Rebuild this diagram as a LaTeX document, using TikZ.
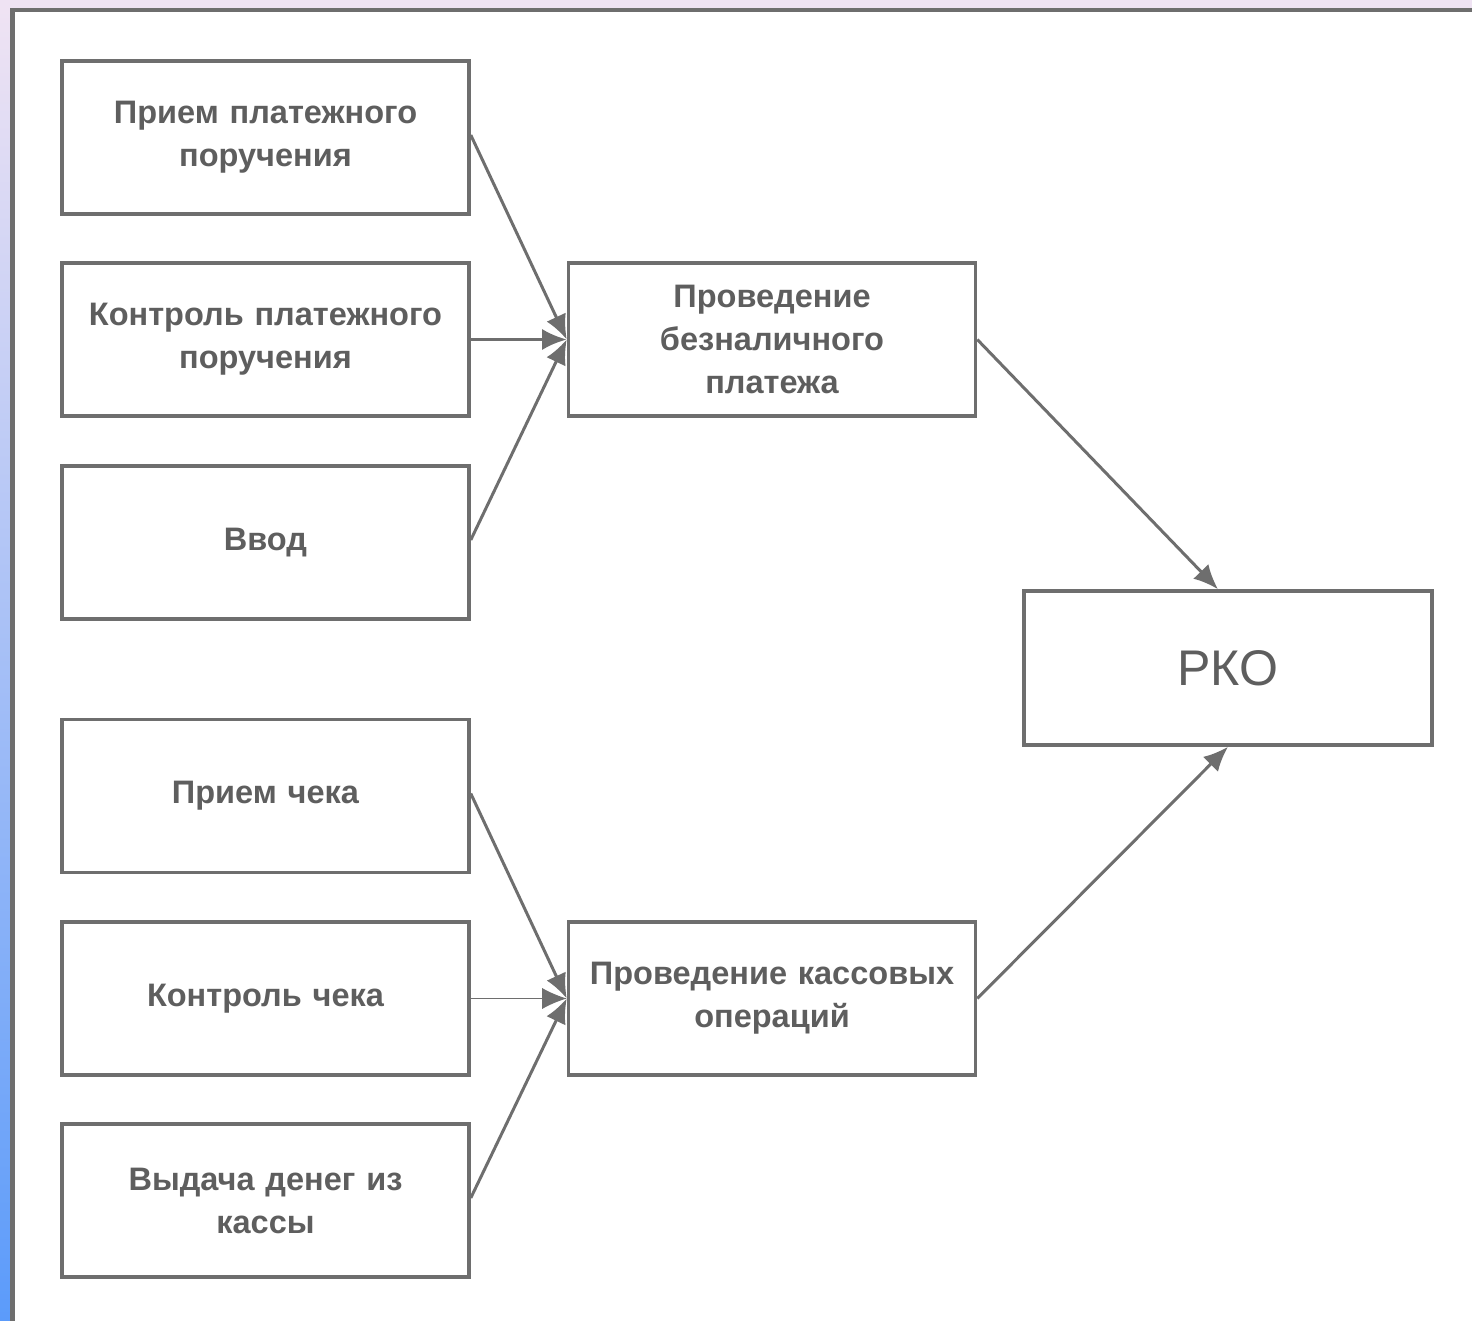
\documentclass[tikz,border=0pt]{standalone}
\usepackage{fontspec}
\setmainfont{Liberation Sans}
\usetikzlibrary{arrows.meta}
\definecolor{lineg}{HTML}{6E6E6E}
\definecolor{textg}{HTML}{5E5E5E}
\definecolor{lav}{HTML}{EFE3F3}
\definecolor{blu}{HTML}{5B9BFA}
\tikzset{
  box/.style={draw=lineg, line width=2pt, fill=white, minimum width=8.14cm, minimum height=3.06cm,
    text width=7.9cm, align=center, inner sep=0pt, text=textg,
    font=\fontsize{18.5}{24.5}\selectfont\bfseries},
  conn/.style={draw=lineg, line width=1.7pt, -{Latex[length=14pt,width=12pt]}},
}
\begin{document}
\begin{tikzpicture}
\useasboundingbox (0,0) rectangle (29.44,-26.42);
\fill[white] (0,0) rectangle (29.44,-26.42);
\fill[lav] (0,0) rectangle (29.44,-0.18);
\shade[top color=lav, bottom color=blu] (0,-0.18) rectangle (0.2,-26.42);
\draw[lineg, line width=2.6pt] (29.6,-0.2) -- (0.25,-0.2) -- (0.25,-26.6);

\node[box] (a1) at (5.31,-2.75) {Прием платежного\\поручения};
\node[box] (a2) at (5.31,-6.79) {Контроль платежного\\поручения};
\node[box] (a3) at (5.31,-10.85) {Ввод};
\node[box] (b1) at (5.31,-15.92) {Прием чека};
\node[box] (b2) at (5.31,-19.97) {Контроль чека};
\node[box] (b3) at (5.31,-24.01) {Выдача денег из\\кассы};
\node[box] (m1) at (15.44,-6.79) {Проведение\\безналичного\\платежа};
\node[box] (m2) at (15.44,-19.97) {Проведение кассовых\\операций};
\node[box, minimum width=8.16cm, minimum height=3.08cm, font=\fontsize{28.5}{34}\selectfont] (rko) at (24.56,-13.36) {РКО};

\draw[conn] ([yshift=0.05cm]a1.east) -- (m1.west);
\draw[conn] (a2.east) -- (m1.west);
\draw[conn] ([yshift=0.05cm]a3.east) -- (m1.west);
\draw[conn] ([yshift=0.05cm]b1.east) -- (m2.west);
\draw[conn, line width=0.6pt] (b2.east) -- (m2.west);
\draw[conn] ([yshift=0.05cm]b3.east) -- (m2.west);
\draw[conn] (m1.east) -- ([xshift=-0.2cm]rko.north);
\draw[conn] (m2.east) -- (rko.south);
\end{tikzpicture}
\end{document}
